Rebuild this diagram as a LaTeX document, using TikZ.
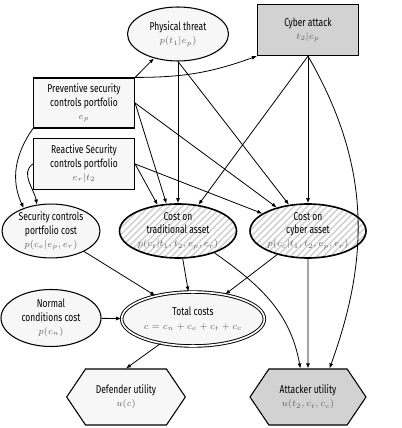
\documentclass[tikz,border=0pt]{standalone}
\usepackage[no-math]{fontspec}
\setmainfont{Fira Sans}[FakeStretch=0.75]
\usetikzlibrary{shapes.geometric,shapes.symbols,arrows.meta,patterns.meta}
\newcommand{\probtxt}[1]{\textcolor{black!60}{\fontsize{7.3}{9}\selectfont$#1$}}
\tikzset{
  every node/.style={font=\fontsize{8.5}{10}\selectfont, align=center},
  chance/.style={ellipse, draw, line width=0.8pt, fill=gray!6, inner sep=0pt},
  costnode/.style={ellipse, draw, line width=1.2pt, inner sep=0pt, preaction={fill=white},
    pattern={Lines[angle=45,distance=3.5pt,line width=1.2pt]}, pattern color=gray!35},
  totalnode/.style={ellipse, draw, double, double distance=1.2pt, line width=0.7pt, fill=gray!6, inner sep=0pt},
  control/.style={rectangle, draw, line width=0.9pt, fill=gray!6, inner sep=0pt},
  attack/.style={rectangle, draw, line width=0.9pt, fill=gray!35, inner sep=0pt},
  utility/.style={signal, signal to=west and east, signal pointer angle=112, draw, line width=0.8pt, inner sep=0pt},
  link/.style={-{Latex[length=3.8pt,width=3pt]}, line width=0.6pt}
}
\begin{document}
\begin{tikzpicture}[x=0.75pt,y=0.75pt]
    \useasboundingbox (0,0) rectangle (401,428);
    % threats and controls
    \node [chance, minimum width=75.75pt, minimum height=40.5pt] (phys) at (178,394) {Physical threat\\ \probtxt{p(t_1|e_p)}};
    \node [attack, minimum width=75.75pt, minimum height=38.25pt] (cyber) at (308,398) {Cyber attack\\ \probtxt{t_2|e_p}};
    \node [control, minimum width=75.75pt, minimum height=37.5pt] (prev) at (84,325) {Preventive security\\ controls portfolio\\ \probtxt{e_p}};
    \node [control, minimum width=75.75pt, minimum height=38.25pt] (react) at (84,264) {Reactive Security\\ controls portfolio\\ \probtxt{e_r|t_2}};
    % costs
    \node [chance, minimum width=73.5pt, minimum height=39.75pt] (seccost) at (51,197) {Security controls\\ portfolio cost\\ \probtxt{p(c_e|e_p,e_r)}};
    \node [costnode, minimum width=87.75pt, minimum height=40.5pt] (trad) at (178,197) {Cost on\\ traditional asset\\ \probtxt{p(c_t|t_1,t_2,e_p,e_r)}};
    \node [costnode, minimum width=87pt, minimum height=40.5pt] (cyb) at (308,197) {Cost on\\ cyber asset\\ \probtxt{p(c_c|t_1,t_2,e_p,e_r)}};
    \node [chance, minimum width=75pt, minimum height=42.75pt] (normal) at (51,110) {Normal\\ conditions cost\\ \probtxt{p(c_n)}};
    \node [totalnode, minimum width=107pt, minimum height=40.5pt] (total) at (193,109) {Total costs\\ \probtxt{c=c_n+c_e+c_t+c_c}};
    % utilities
    \node [utility, fill=gray!6, minimum width=89pt, minimum height=42pt] (defender) at (126,31) {Defender utility\\ \probtxt{u(c)}};
    \node [utility, fill=gray!35, minimum width=87pt, minimum height=42pt] (attacker) at (308,31) {Attacker utility\\ \probtxt{u(t_2,c_t,c_c)}};
    % arcs
    \draw [link] (prev.north east) -- (phys);
    \draw [link] (prev.north east) to[bend right=10] (cyber.south west);
    \draw [link] (prev.south west) to[out=235, in=115] (seccost.140);
    \draw [link] (react.west) to[out=215, in=100] (seccost.118);
    \draw [link] (prev.east) -- (trad.113);\draw [link] (prev.east) -- (cyb.143);
    \draw [link] (react.east) -- (trad.128);\draw [link] (react.east) -- (cyb.159);
    \draw [link] (phys) -- (trad);\draw [link] (phys.south) -- (cyb.126);
    \draw [link] (cyber.south) -- (trad.52);\draw [link] (cyber) -- (cyb);
    \draw [link] (cyber.south) to[out=-60, in=70] (attacker.53);
    \draw [link] (trad.-31) to[out=-35, in=100] (attacker.105);
    \draw [link] (cyb) -- (attacker);
    \draw [link] (seccost) -- (total);\draw [link] (trad) -- (total);
    \draw [link] (cyb) -- (total);\draw [link] (normal) -- (total);
    \draw [link] (total.217) -- (defender.north);
\end{tikzpicture}
\end{document}
